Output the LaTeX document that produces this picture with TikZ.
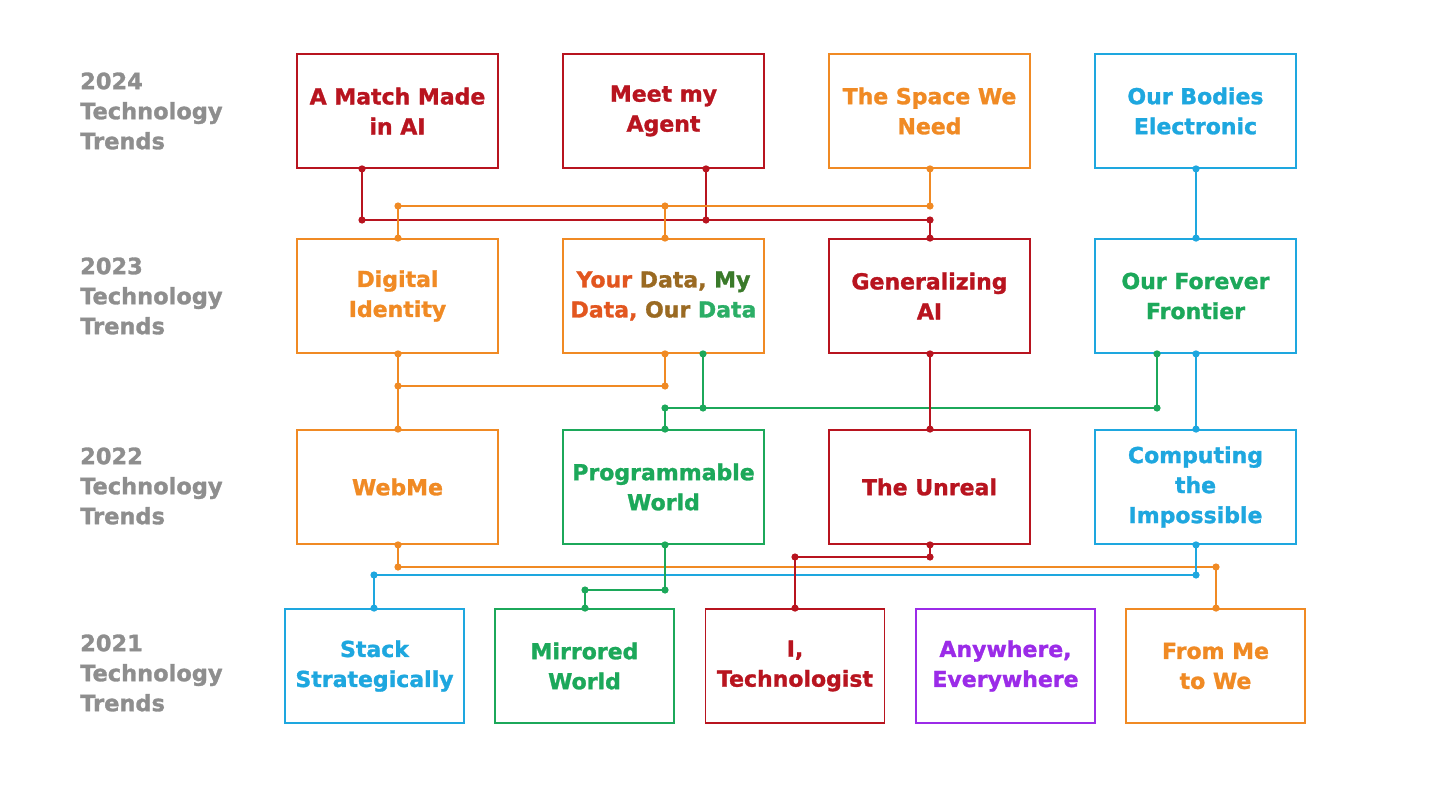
\documentclass[tikz,border=0pt]{standalone}
\usepackage{fontspec}
\setmainfont{DejaVu Sans}[BoldFeatures={FakeBold=1.3}]
\definecolor{cred}{HTML}{B8141F}
\definecolor{corange}{HTML}{F08A24}
\definecolor{cblue}{HTML}{1EA7DF}
\definecolor{cgreen}{HTML}{1CA85A}
\definecolor{cpurple}{HTML}{9B2BE8}
\definecolor{cgray}{HTML}{8E8E8E}
\definecolor{cyour}{HTML}{E2561F}
\definecolor{cbrown}{HTML}{9A6A22}
\definecolor{cdkgreen}{HTML}{3A7A2A}
\definecolor{cdata}{HTML}{2BAE66}
\tikzset{
  box/.style={draw, line width=1.8pt, minimum width=201pt, minimum height=114pt,
    inner sep=0pt, align=center, font=\fontsize{22}{30}\selectfont\bfseries},
  sbox/.style={box, minimum width=179pt},
  yearlbl/.style={anchor=west, align=left, inner sep=0pt, text=cgray,
    font=\fontsize{22.5}{30}\selectfont\bfseries},
  link/.style={line width=1.6pt, line join=round},
}
\newcommand{\jdots}[2]{\foreach \p in {#2} \fill[#1] (\p) circle (3.6pt);}
\begin{document}
\begin{tikzpicture}[x=1pt,y=-1pt]
\useasboundingbox[fill=white] (0,0) rectangle (1456,808);
% year labels
\node[yearlbl] (y24) at (80,111) {2024\\Technology\\Trends};
\node[yearlbl] (y23) at (80,296) {2023\\Technology\\Trends};
\node[yearlbl] (y22) at (80,486) {2022\\Technology\\Trends};
\node[yearlbl] (y21) at (80,673) {2021\\Technology\\Trends};
% row 1 (2024)
\node[box, draw=cred, text=cred] (a1) at (397.5,111) {A Match Made\\in AI};
\node[box, draw=cred, text=cred] (a2) at (663.5,111) {Meet my\\Agent};
\node[box, draw=corange, text=corange] (a3) at (929.5,111) {The Space We\\Need};
\node[box, draw=cblue, text=cblue] (a4) at (1195.5,111) {Our Bodies\\Electronic};
% row 2 (2023)
\node[box, draw=corange, text=corange] (b1) at (397.5,296) {Digital\\Identity};
\node[box, draw=corange] (b2) at (663.5,296) {\textcolor{cyour}{Your} \textcolor{cbrown}{Data,} \textcolor{cdkgreen}{My}\\\textcolor{cyour}{Data,} \textcolor{cbrown}{Our} \textcolor{cdata}{Data}};
\node[box, draw=cred, text=cred] (b3) at (929.5,296) {Generalizing\\AI};
\node[box, draw=cblue, text=cgreen] (b4) at (1195.5,296) {Our Forever\\Frontier};
% row 3 (2022)
\node[box, draw=corange, text=corange] (c1) at (397.5,487) {WebMe};
\node[box, draw=cgreen, text=cgreen] (c2) at (663.5,487) {Programmable\\World};
\node[box, draw=cred, text=cred] (c3) at (929.5,487) {The Unreal};
\node[box, draw=cblue, text=cblue] (c4) at (1195.5,487) {Computing\\the\\Impossible};
% row 4 (2021)
\node[sbox, draw=cblue, text=cblue] (d1) at (374.5,666) {Stack\\Strategically};
\node[sbox, draw=cgreen, text=cgreen] (d2) at (584.5,666) {Mirrored\\World};
\node[sbox, draw=cred, text=cred] (d3) at (795,666) {I,\\Technologist};
\node[sbox, draw=cpurple, text=cpurple] (d4) at (1005.5,666) {Anywhere,\\Everywhere};
\node[sbox, draw=corange, text=corange] (d5) at (1215.5,666) {From Me\\to We};
% junction coordinates, rows 1-2
\coordinate (o1a) at (398,206); \coordinate (o1b) at (665,206); \coordinate (o1c) at (930,206);
\coordinate (r1a) at (362,220); \coordinate (r1b) at (706,220); \coordinate (r1c) at (930,220);
\coordinate (bl1) at (1196,0);
% rows 2-3
\coordinate (o2a) at (398,386); \coordinate (o2b) at (665,386);
\coordinate (g2a) at (665,408); \coordinate (g2b) at (703,408); \coordinate (g2c) at (1157,408);
\coordinate (rd2) at (930,0);
% rows 3-4
\coordinate (o3a) at (398,567); \coordinate (o3b) at (1216,567);
\coordinate (b3a) at (1196,575); \coordinate (b3b) at (374,575);
\coordinate (g3a) at (665,590); \coordinate (g3b) at (585,590);
\coordinate (r3a) at (930,557); \coordinate (r3b) at (795,557);
% connectors rows 1-2
\draw[link, cred] (a1.south -| r1a) -- (r1a) -- (r1c) -- (b3.north -| r1c);
\draw[link, cred] (a2.south -| r1b) -- (r1b);
\draw[link, corange] (a3.south -| o1c) -- (o1c) -- (o1a) -- (b1.north -| o1a);
\draw[link, corange] (o1b) -- (b2.north -| o1b);
\draw[link, cblue] (a4.south -| bl1) -- (b4.north -| bl1);
\jdots{cred}{a1.south -| r1a, r1a, a2.south -| r1b, r1b, r1c, b3.north -| r1c}
\jdots{corange}{a3.south -| o1c, o1c, o1a, o1b, b1.north -| o1a, b2.north -| o1b}
\jdots{cblue}{a4.south -| bl1, b4.north -| bl1}
% connectors rows 2-3
\draw[link, corange] (b1.south -| o2a) -- (c1.north -| o2a);
\draw[link, corange] (o2a) -- (o2b) -- (b2.south -| o2b);
\draw[link, cgreen] (b2.south -| g2b) -- (g2b);
\draw[link, cgreen] (b4.south -| g2c) -- (g2c) -- (g2a) -- (c2.north -| g2a);
\draw[link, cred] (b3.south -| rd2) -- (c3.north -| rd2);
\draw[link, cblue] (b4.south -| bl1) -- (c4.north -| bl1);
\jdots{corange}{b1.south -| o2a, o2a, o2b, b2.south -| o2b, c1.north -| o2a}
\jdots{cgreen}{b2.south -| g2b, g2b, g2a, g2c, b4.south -| g2c, c2.north -| g2a}
\jdots{cred}{b3.south -| rd2, c3.north -| rd2}
\jdots{cblue}{b4.south -| bl1, c4.north -| bl1}
% connectors rows 3-4
\draw[link, corange] (c1.south -| o3a) -- (o3a) -- (o3b) -- (d5.north -| o3b);
\draw[link, cblue] (c4.south -| b3a) -- (b3a) -- (b3b) -- (d1.north -| b3b);
\draw[link, cgreen] (c2.south -| g3a) -- (g3a) -- (g3b) -- (d2.north -| g3b);
\draw[link, cred] (c3.south -| r3a) -- (r3a) -- (r3b) -- (d3.north -| r3b);
\jdots{corange}{c1.south -| o3a, o3a, o3b, d5.north -| o3b}
\jdots{cblue}{c4.south -| b3a, b3a, b3b, d1.north -| b3b}
\jdots{cgreen}{c2.south -| g3a, g3a, g3b, d2.north -| g3b}
\jdots{cred}{c3.south -| r3a, r3a, r3b, d3.north -| r3b}
\end{tikzpicture}
\end{document}
